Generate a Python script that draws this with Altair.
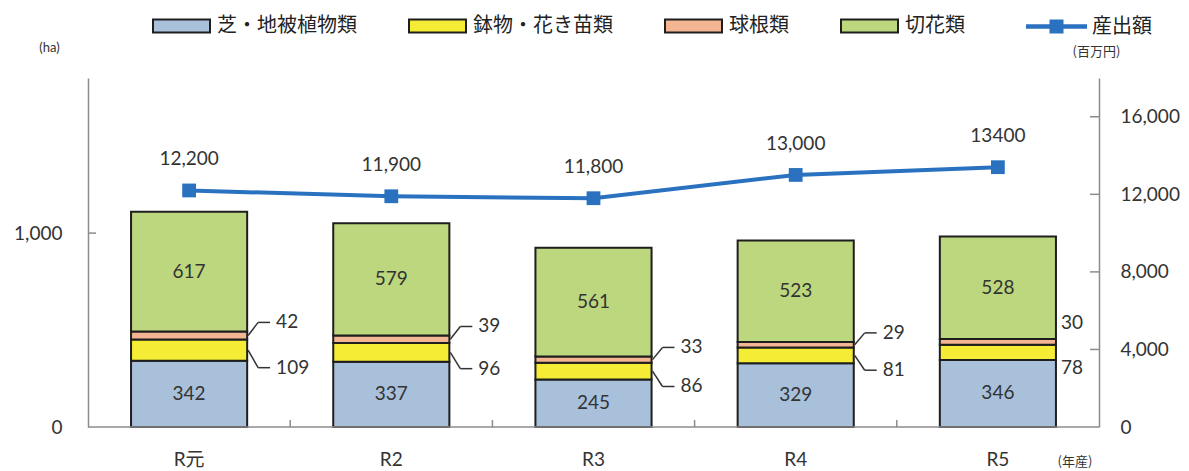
import altair as alt
import pandas as pd

# ---- data ----
years = ["R元", "R2", "R3", "R4", "R5"]
turf = [342, 337, 245, 329, 346]        # 芝・地被植物類
potted = [109, 96, 86, 81, 78]          # 鉢物・花き苗類
bulbs = [42, 39, 33, 29, 30]            # 球根類
cut = [617, 579, 561, 523, 528]         # 切花類
output = [12200, 11900, 11800, 13000, 13400]   # 産出額 (百万円)
output_labels = ["12,200", "11,900", "11,800", "13,000", "13400"]
series_names = ["芝・地被植物類", "鉢物・花き苗類", "球根類", "切花類"]
line_name = "産出額"
left_ticks = [0, 1000]
right_ticks = [0, 4000, 8000, 12000, 16000]
x_title = "(年産)"

# ---- styling ----
bar_colors = ["#A9C0DB", "#F4EC35", "#F3B592", "#BDD77E"]
line_color = "#2A72C0"
axis_gray = "#8c8c8c"
txt = "#333333"
num_font = "Lato"
cjk_font = "Noto Sans CJK JP"
W, H = 1011, 349

# ---- tables ----
rows = []
for i, y in enumerate(years):
    for j, (name, vals) in enumerate(zip(series_names, [turf, potted, bulbs, cut])):
        rows.append(dict(year=y, series=name, value=vals[i], order=j))
bars_df = pd.DataFrame(rows)

w = pd.DataFrame(dict(year=years, turf=turf, potted=potted, bulbs=bulbs, cut=cut))
w["turf_mid"] = w.turf / 2
w["yel_bot"] = w.turf
w["yel_mid"] = w.turf + w.potted / 2
w["pink_mid"] = w.turf + w.potted + w.bulbs / 2
w["pink_top"] = w.turf + w.potted + w.bulbs
w["cut_mid"] = w.pink_top + w.cut / 2
w_main = w[w.year != years[-1]]
w_last = w[w.year == years[-1]]

line_df = pd.DataFrame(dict(year=years, value=output, label=output_labels, series=line_name))
xt_df = pd.DataFrame(dict(year=years[1:]))
lt_df = pd.DataFrame(dict(t=left_ticks[1:]))
rt_df = pd.DataFrame(dict(t=right_ticks[1:]))
yr_df = pd.DataFrame(dict(year=years))
xtitle_df = pd.DataFrame(dict(label=[x_title]))

xscale = alt.Scale(paddingInner=0.4257, paddingOuter=0.2129)


def xenc():
    return alt.X("year:N", sort=years, scale=xscale, axis=None)


def lscale():
    return alt.Scale(domain=[0, 1800], nice=False, zero=True)


def rscale():
    return alt.Scale(domain=[0, 18000], nice=False, zero=True)


bar_legend_sym = "M-1,-0.23L1,-0.23L1,0.23L-1,0.23Z"
line_legend_sym = ("M-1,-0.07L-0.23,-0.07L-0.23,-0.23L0.23,-0.23L0.23,-0.07L1,-0.07"
                   "L1,0.07L0.23,0.07L0.23,0.23L-0.23,0.23L-0.23,0.07L-1,0.07Z")

bars = alt.Chart(bars_df).mark_bar(stroke="#1e1e1e", strokeWidth=2).encode(
    x=xenc(),
    y=alt.Y("value:Q", stack="zero", scale=lscale(),
            axis=alt.Axis(orient="left", values=left_ticks, format=",.0f", ticks=False, grid=False,
                          labelPadding=26, labelFont=num_font, labelFontSize=19,
                          labelColor=txt, domainColor=axis_gray, domainWidth=1.5,
                          title="(ha)", titleAngle=0, titleX=-39, titleY=-31,
                          titleFont=num_font, titleFontSize=13, titleFontWeight="normal",
                          titleColor=txt, titleAlign="center", titleBaseline="middle")),
    order=alt.Order("order:Q", sort="ascending"),
    fill=alt.Fill("series:N", sort=series_names,
                  scale=alt.Scale(domain=series_names, range=bar_colors),
                  legend=alt.Legend(orient="none", legendX=64, legendY=-82,
                                    direction="horizontal", title=None,
                                    symbolType=bar_legend_sym, symbolSize=3249,
                                    symbolStrokeColor="#1e1e1e", symbolStrokeWidth=2,
                                    labelFont=cjk_font, labelFontSize=20, labelColor="#222",
                                    labelOffset=6, columnPadding=48)),
)

lab_style = dict(font=num_font, fontSize=19, color=txt, baseline="middle")


def ly(field):
    return alt.Y(field, scale=lscale(), axis=None)


def ry(field):
    return alt.Y(field, scale=rscale(), axis=None)


in_turf = alt.Chart(w).mark_text(**lab_style).encode(x=xenc(), y=ly("turf_mid:Q"), text="turf:Q")
in_cut = alt.Chart(w).mark_text(**lab_style).encode(x=xenc(), y=ly("cut_mid:Q"), text="cut:Q")

side_pink = alt.Chart(w_main).mark_text(align="left", dx=87, dy=-9, **lab_style).encode(
    x=xenc(), y=ly("pink_top:Q"), text="bulbs:Q")
side_yel = alt.Chart(w_main).mark_text(align="left", dx=87, dy=7, **lab_style).encode(
    x=xenc(), y=ly("yel_bot:Q"), text="potted:Q")
last_pink = alt.Chart(w_last).mark_text(align="left", dx=63, dy=-16, **lab_style).encode(
    x=xenc(), y=ly("pink_top:Q"), text="bulbs:Q")
last_yel = alt.Chart(w_last).mark_text(align="left", dx=63, dy=8, **lab_style).encode(
    x=xenc(), y=ly("yel_bot:Q"), text="potted:Q")

conn = dict(color="#333333", strokeWidth=1.5)
c1 = alt.Chart(w_main).mark_rule(xOffset=59, x2Offset=69, y2Offset=-9, **conn).encode(
    x=xenc(), x2="year", y=ly("pink_mid:Q"), y2="pink_top:Q")
c2 = alt.Chart(w_main).mark_rule(xOffset=69, x2Offset=81, yOffset=-9, y2Offset=-9, **conn).encode(
    x=xenc(), x2="year", y=ly("pink_top:Q"), y2="pink_top:Q")
c3 = alt.Chart(w_main).mark_rule(xOffset=59, x2Offset=69, y2Offset=7, **conn).encode(
    x=xenc(), x2="year", y=ly("yel_mid:Q"), y2="yel_bot:Q")
c4 = alt.Chart(w_main).mark_rule(xOffset=69, x2Offset=81, yOffset=7, y2Offset=7, **conn).encode(
    x=xenc(), x2="year", y=ly("yel_bot:Q"), y2="yel_bot:Q")

# hand-made category axis (baseline, inward ticks between bars, labels, title)
xbase = alt.Chart(yr_df.head(1)).mark_rule(color=axis_gray, strokeWidth=1.5).encode(
    x=alt.value(0), x2=alt.value(W), y=alt.value(H))
xticks = alt.Chart(xt_df).mark_rule(xOffset=-101.1, color=axis_gray, strokeWidth=1.5).encode(
    x=xenc(), y=alt.value(H), y2=alt.value(H - 7))
xlabels = alt.Chart(yr_df).mark_text(
    font=f"{num_font}, {cjk_font}", fontSize=19, color=txt, baseline="middle", dy=33
).encode(x=xenc(), y=alt.value(H), text="year:N")
xtitle = alt.Chart(xtitle_df).mark_text(
    font=cjk_font, fontSize=13, color=txt, baseline="middle", align="center"
).encode(x=alt.value(987), y=alt.value(H + 35), text="label:N")

lticks = alt.Chart(lt_df).mark_rule(color=axis_gray, strokeWidth=1.5).encode(
    x=alt.value(0), x2=alt.value(8), y=ly("t:Q"))

line = alt.Chart(line_df).mark_line(color=line_color, strokeWidth=4).encode(
    x=xenc(),
    y=alt.Y("value:Q", scale=rscale(),
            axis=alt.Axis(orient="right", values=right_ticks, format=",.0f", ticks=False,
                          grid=False, labelPadding=21, labelFont=num_font, labelFontSize=19,
                          labelColor=txt, domainColor=axis_gray, domainWidth=1.5,
                          title="(百万円)", titleAngle=0, titleX=-3, titleY=-27,
                          titleFont=cjk_font, titleFontSize=13, titleFontWeight="normal",
                          titleColor=txt, titleAlign="center", titleBaseline="middle")),
)
pts = alt.Chart(line_df).mark_point(shape="square", filled=True, size=190, opacity=1).encode(
    x=xenc(), y=ry("value:Q"),
    color=alt.Color("series:N", scale=alt.Scale(domain=[line_name], range=[line_color]),
                    legend=alt.Legend(orient="none", legendX=938, legendY=-82, title=None,
                                      symbolType=line_legend_sym, symbolSize=3721,
                                      symbolFillColor=line_color, symbolStrokeWidth=0,
                                      labelFont=cjk_font, labelFontSize=20,
                                      labelColor="#222", labelOffset=5)),
)
line_lab = alt.Chart(line_df).mark_text(dy=-31, **lab_style).encode(
    x=xenc(), y=ry("value:Q"), text="label:N")
rticks = alt.Chart(rt_df).mark_rule(color=axis_gray, strokeWidth=1.5).encode(
    x=alt.value(W - 9), x2=alt.value(W), y=ry("t:Q"))

chart = alt.layer(
    bars, in_turf, in_cut, side_pink, side_yel, last_pink, last_yel,
    c1, c2, c3, c4, xbase, xticks, xlabels, xtitle, lticks,
    line, pts, line_lab, rticks,
).resolve_scale(y="independent").properties(
    width=W, height=H,
    autosize=alt.AutoSizeParams(type="none"),
    padding={"left": 80, "top": 70, "right": 82, "bottom": 44},
    background="white",
).configure_view(stroke="transparent")

chart.save("out.html", embed_options={"renderer": "svg", "actions": False})
